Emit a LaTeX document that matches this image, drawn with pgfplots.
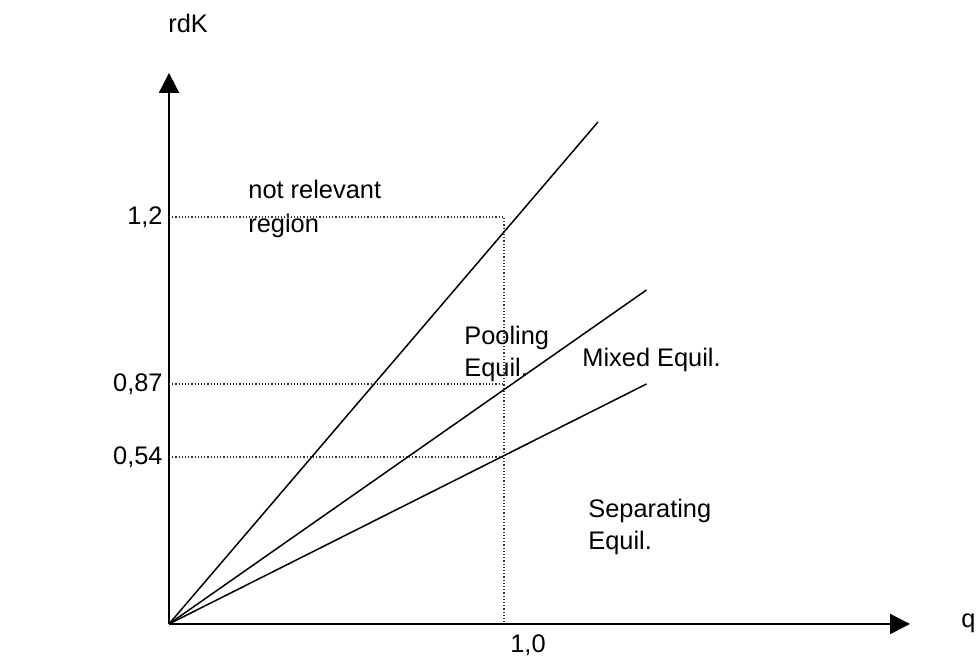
\documentclass[border=0pt]{standalone}
\usepackage{pgfplots}
\pgfplotsset{compat=1.18}
\usepackage{fontspec}
\setmainfont{Liberation Sans}
\usetikzlibrary{arrows.meta}
\begin{document}
\begin{tikzpicture}[lbl/.style={anchor=base west, inner sep=0pt, font=\fontsize{12.7}{15}\selectfont}]
\begin{axis}[
  x=167.5pt, y=167.5pt,
  xmin=0, xmax=2.212, ymin=0, ymax=1.645,
  axis lines=left,
  axis line style={line width=1pt, -{Triangle[length=10pt,width=10pt]}},
  clip=false,
  major tick length=0pt,
  /pgf/number format/assume math mode=true,
  xtick={1}, xticklabels={1{,}0},
  xticklabel style={anchor=north, inner sep=0pt, xshift=12pt, yshift=-5pt, font=\fontsize{12.7}{15}\selectfont},
  ytick={0.4985,0.7164,1.2149},
  yticklabels={{0{,}54},{0{,}87},{1{,}2}},
  yticklabel style={anchor=east, inner sep=0pt, xshift=-3pt, font=\fontsize{12.7}{15}\selectfont},
]
% dotted reference lines
\addplot[densely dotted, line width=0.6pt, black!80] coordinates {(0,1.2149) (1,1.2149) (1,0)};
\addplot[densely dotted, line width=0.6pt, black!80] coordinates {(0,0.7164) (1,0.7164)};
\addplot[densely dotted, line width=0.6pt, black!80] coordinates {(0,0.4985) (1,0.4985)};
% boundary lines
\addplot[black, line width=0.75pt] coordinates {(0,0) (1.2806,1.4985)};
\addplot[black, line width=0.75pt] coordinates {(0,0) (1.4254,0.9970)};
\addplot[black, line width=0.75pt] coordinates {(0,0) (1.4254,0.7164)};
% labels
\node[lbl] at (axis cs:0.2358,1.2716) {not relevant};
\node[lbl] at (axis cs:0.2358,1.1672) {region};
\node[lbl] at (axis cs:0.8806,0.8328) {Pooling};
\node[lbl] at (axis cs:0.8806,0.7373) {Equil.};
\node[lbl] at (axis cs:1.2328,0.7672) {Mixed Equil.};
\node[lbl] at (axis cs:1.2507,0.3164) {Separating};
\node[lbl] at (axis cs:1.2507,0.2209) {Equil.};
\node[lbl] at (axis cs:-0.003,1.7642) {rdK};
\node[lbl] at (axis cs:2.364,-0.0119) {q};
\coordinate (bl) at (axis cs:-0.5045,-0.0985);
\coordinate (tr) at (axis cs:2.409,1.8627);
\end{axis}
\pgfresetboundingbox
\path[use as bounding box] (bl) rectangle (tr);
\end{tikzpicture}
\end{document}
